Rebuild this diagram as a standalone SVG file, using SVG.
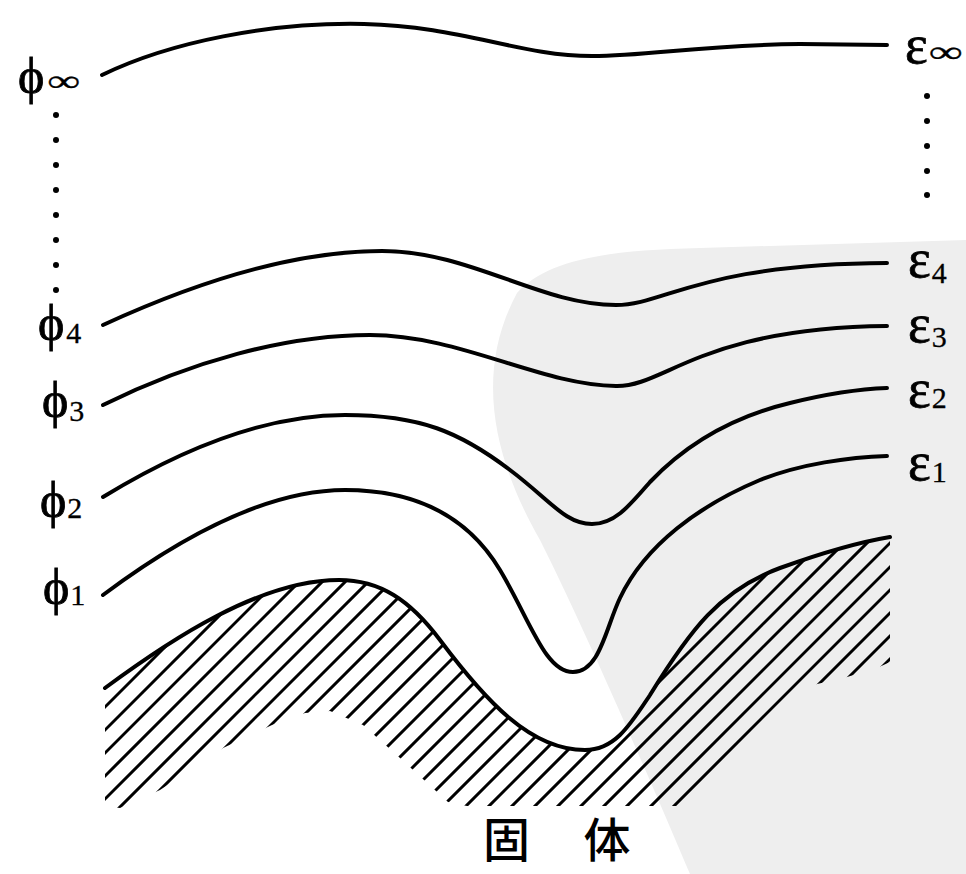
<svg xmlns="http://www.w3.org/2000/svg" width="966" height="874" viewBox="0 0 966 874">
<style>
.curve{fill:none;stroke:#000;stroke-width:4;stroke-linecap:round;stroke-linejoin:round}
.hatch{fill:none;stroke:#000;stroke-width:3;stroke-linecap:round}
.lbl{font-family:"Liberation Serif","Times New Roman",serif;fill:#000;stroke:#000;stroke-width:0.8}
.gr{font-size:50px}
.eps{font-size:54px}
.sub{font-size:30px;stroke-width:0.3}
.cjk{font-family:"Noto Sans CJK SC","Noto Sans CJK JP",sans-serif;font-size:47px;font-weight:500;fill:#000}
.dot{fill:#000}
</style>
<defs>
<clipPath id="solidClip">
<path d="M105,688 C170,640 260,580 339,580 C380,580 410,600 440,640 C485,700 530,750 585,750 C615,750 630,725 650,695 C690,630 720,590 780,568 C830,550 860,542 890,537 L890,662 L877,668 L847,677 L813,685 L680,806 L467,806 L448,802 L400,758 L363,725 L330,711 L305,713 L272,725 L223,748 L160,790 L120,808 L105,806 Z"/>
</clipPath>
</defs>
<rect width="966" height="874" fill="#fff"/>
<path id="watermark" d="M517,293 C545,262 600,250 700,248 L966,240 L966,874 L690,874 C650,780 590,640 540,540 C500,470 470,380 517,293 Z" fill="#eeeeee"/>

<g id="solid">
<g clip-path="url(#solidClip)" class="hatch">
<path d="M0,812 L812,0 M0,835 L835,0 M0,858 L858,0 M0,881 L881,0 M0,904 L904,0 M0,927 L927,0 M0,950 L950,0 M0,973 L973,0 M0,996 L996,0 M0,1019 L1019,0 M0,1042 L1042,0 M0,1065 L1065,0 M0,1088 L1088,0 M0,1111 L1111,0 M0,1134 L1134,0 M0,1157 L1157,0 M0,1180 L1180,0 M0,1203 L1203,0 M0,1226 L1226,0 M0,1249 L1249,0 M0,1272 L1272,0 M0,1295 L1295,0 M0,1318 L1318,0 M0,1341 L1341,0 M0,1364 L1364,0 M0,1387 L1387,0 M0,1410 L1410,0 M0,1433 L1433,0 M0,1457 L1457,0 M0,1480 L1480,0 M0,1503 L1503,0 M0,1526 L1526,0 M0,1549 L1549,0"/>
</g>
<path class="curve" d="M105,688 C170,640 260,580 339,580 C380,580 410,600 440,640 C485,700 530,750 585,750 C615,750 630,725 650,695 C690,630 720,590 780,568 C830,550 860,542 890,537"/>
<text class="cjk" x="483" y="857" word-spacing="43">固 体</text>
</g>

<g id="curves">
<path id="c-inf" class="curve" d="M102,75 C170,42 270,22 364,24 C460,26 520,56 592,56 C650,56 700,45 800,44 L887,45"/>
<path id="c4" class="curve" d="M103,325 C190,285 290,251 382,251 C470,251 540,305 616,305 C665,305 700,264 887,263"/>
<path id="c3" class="curve" d="M103,405 C190,362 285,335 370,335 C460,335 540,385 616,386 C665,387 700,328 887,326"/>
<path id="c2" class="curve" d="M103,497 C180,450 265,415 345,415 C420,415 460,432 510,470 C550,500 565,524 592,524 C615,524 630,505 650,482 C690,440 740,415 790,403 C830,393 860,389 887,388"/>
<path id="c1" class="curve" d="M103,595 C170,545 260,490 345,490 C420,490 470,520 500,570 C530,620 545,672 573,672 C600,672 606,627 620,598 C645,545 700,505 760,480 C800,464 850,457 887,456"/>
</g>

<g id="dots-left" class="dot">
<circle cx="56" cy="115" r="3"/><circle cx="56" cy="140" r="3"/><circle cx="56" cy="165" r="3"/><circle cx="56" cy="190" r="3"/><circle cx="56" cy="215" r="3"/><circle cx="56" cy="240" r="3"/><circle cx="56" cy="265" r="3"/><circle cx="56" cy="290" r="3"/>
</g>
<g id="dots-right" class="dot">
<circle cx="927" cy="96" r="3"/><circle cx="927" cy="121" r="3"/><circle cx="927" cy="146" r="3"/><circle cx="927" cy="171" r="3"/><circle cx="927" cy="195" r="3"/>
</g>

<g id="labels-left">
<text id="phi-inf" class="lbl gr" x="18" y="93">ϕ<tspan class="sub" dx="3" dy="-2" textLength="33" lengthAdjust="spacingAndGlyphs">∞</tspan></text>
<text id="phi4" class="lbl gr" x="38" y="340">ϕ<tspan class="sub" dx="2" dy="3">4</tspan></text>
<text id="phi3" class="lbl gr" x="42" y="417">ϕ<tspan class="sub" dx="1" dy="4">3</tspan></text>
<text id="phi2" class="lbl gr" x="40" y="517">ϕ<tspan class="sub" dx="1" dy="1">2</tspan></text>
<text id="phi1" class="lbl gr" x="43" y="604">ϕ<tspan class="sub" dx="1" dy="1">1</tspan></text>
</g>
<g id="labels-right">
<text id="eps-inf" class="lbl eps" x="905" y="63">ε<tspan class="sub" dx="1" dy="-1" textLength="34" lengthAdjust="spacingAndGlyphs">∞</tspan></text>
<text id="eps4" class="lbl eps" x="908" y="277">ε<tspan class="sub" dx="1" dy="6">4</tspan></text>
<text id="eps3" class="lbl eps" x="908" y="342">ε<tspan class="sub" dx="1" dy="5">3</tspan></text>
<text id="eps2" class="lbl eps" x="908" y="407">ε<tspan class="sub" dx="1" dy="1">2</tspan></text>
<text id="eps1" class="lbl eps" x="908" y="480">ε<tspan class="sub" dx="1" dy="2">1</tspan></text>
</g>
</svg>
